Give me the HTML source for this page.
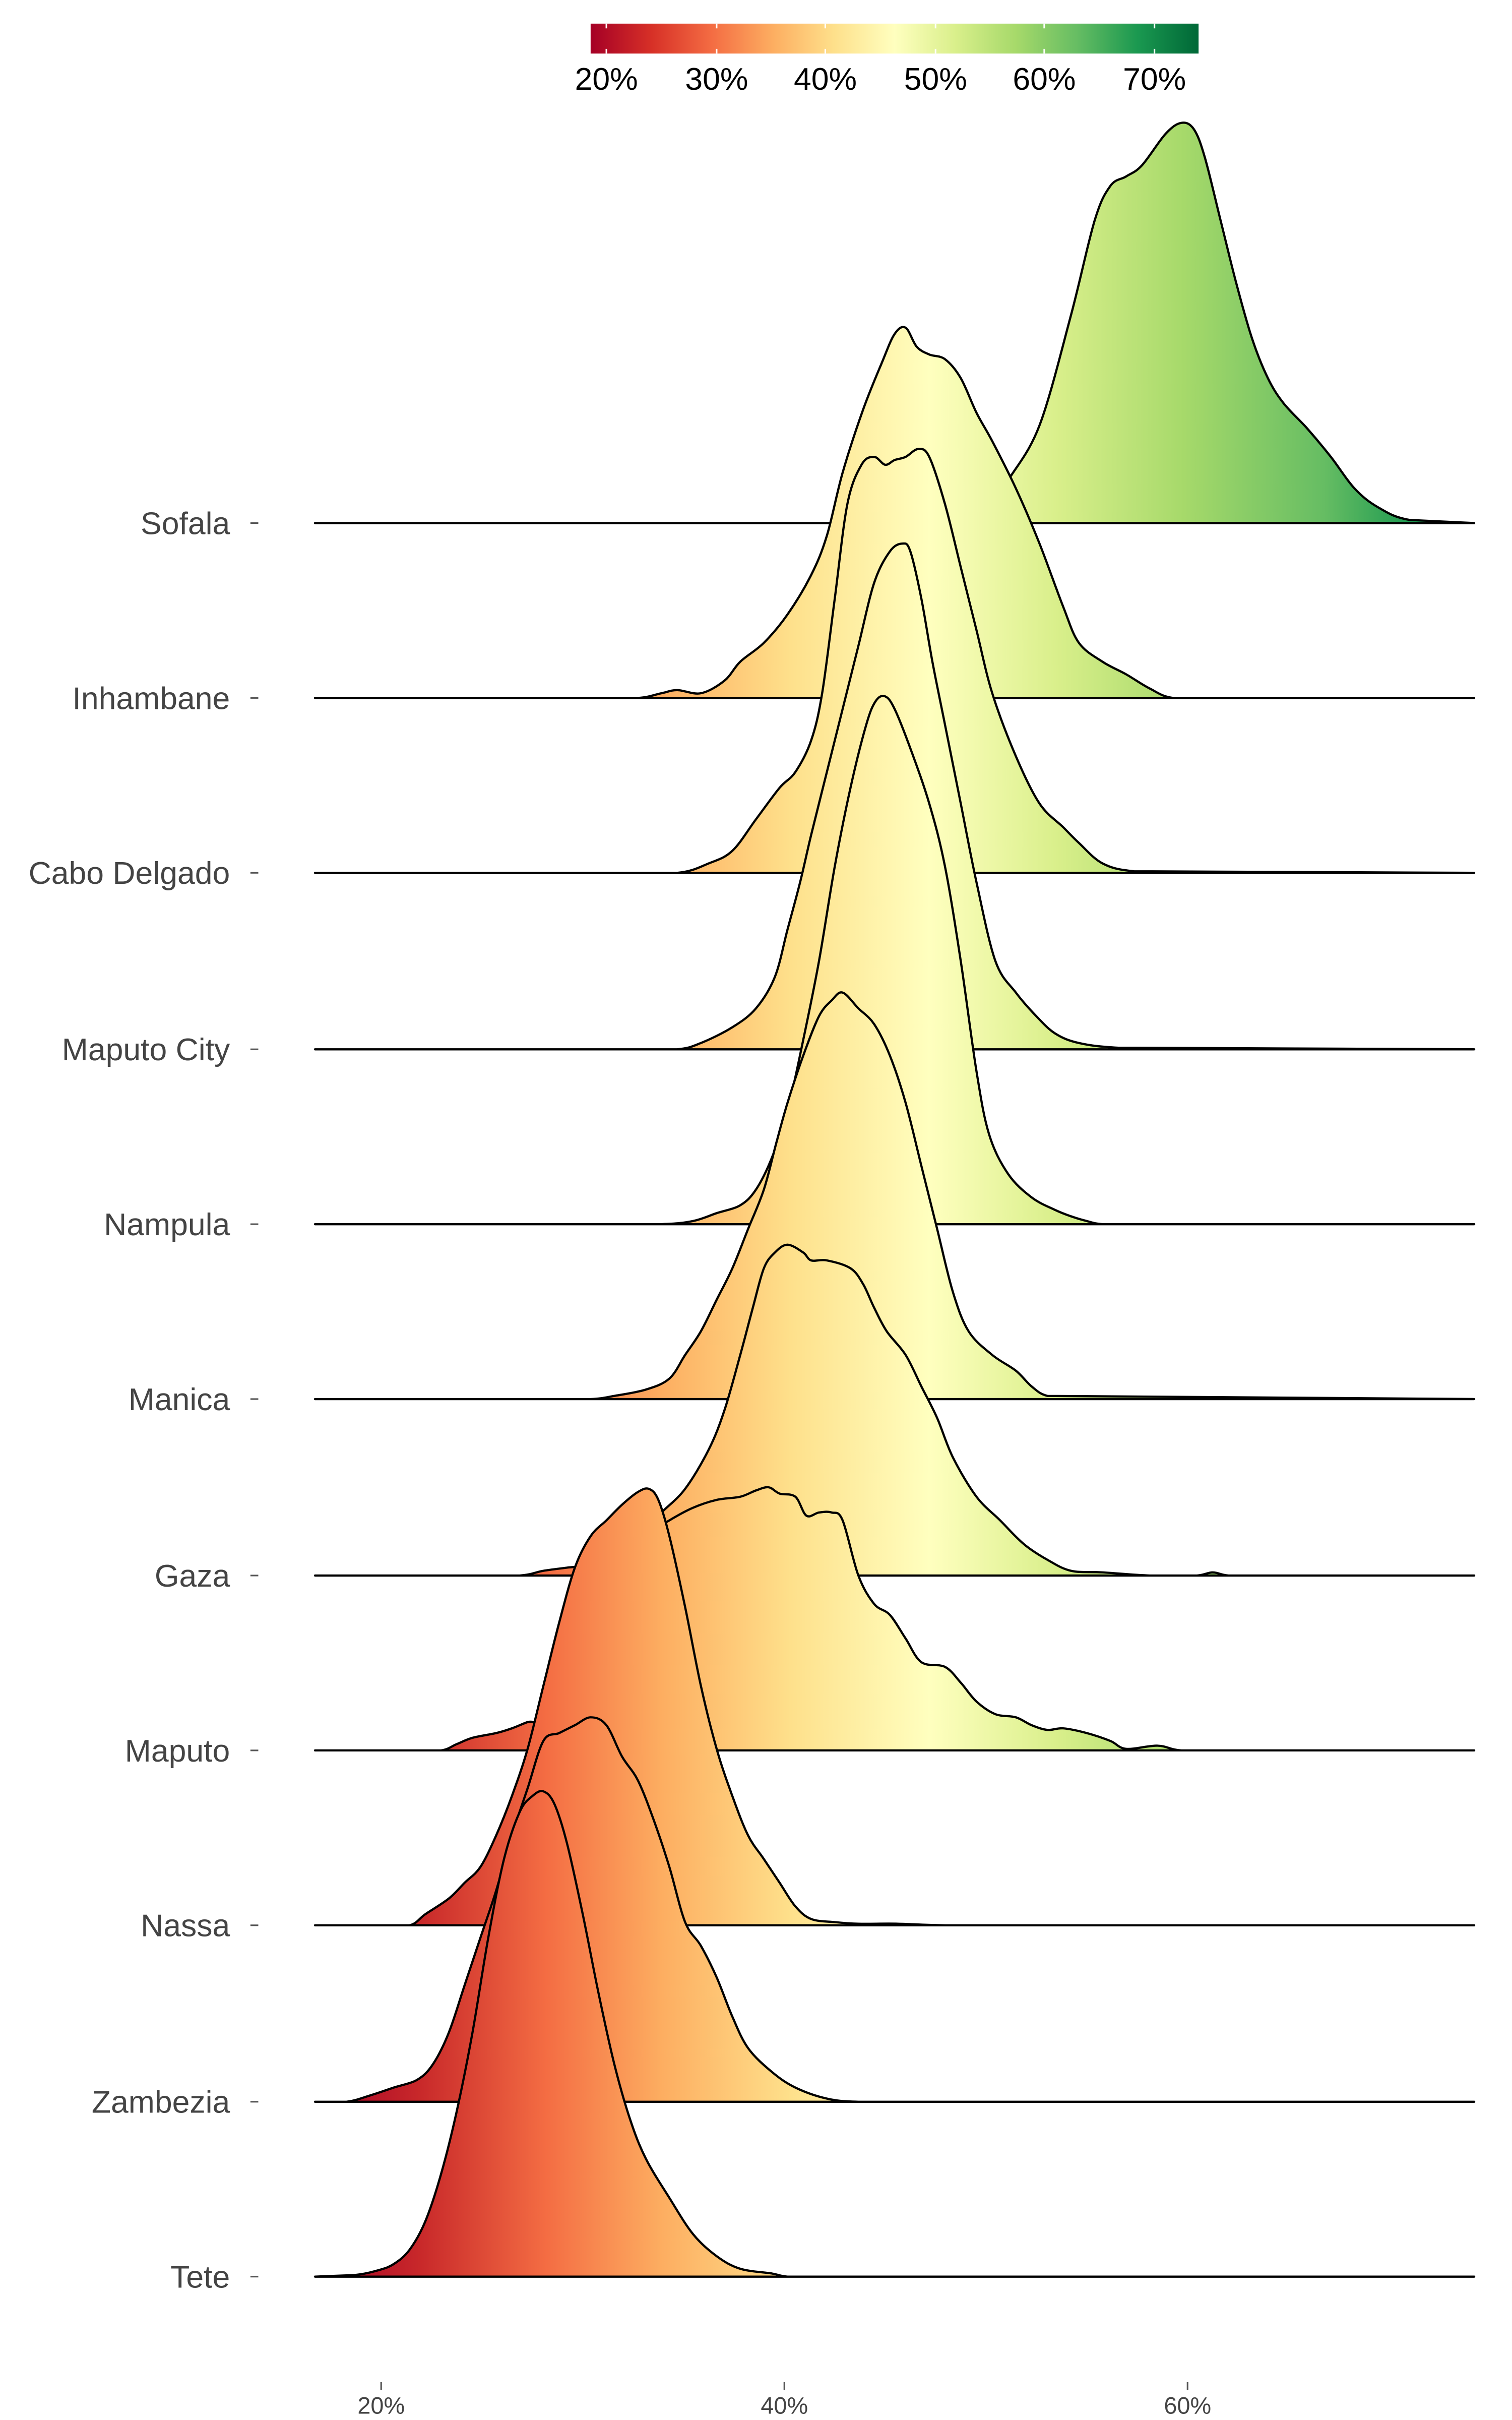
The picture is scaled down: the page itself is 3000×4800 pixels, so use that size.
<!DOCTYPE html>
<html><head><meta charset="utf-8"><style>html,body{margin:0;padding:0;background:#fff}svg{display:block}</style></head>
<body>
<svg width="3000" height="4800" viewBox="0 0 960 1536" xmlns="http://www.w3.org/2000/svg" font-family="Liberation Sans, sans-serif">
<defs>
<linearGradient id="g" gradientUnits="userSpaceOnUse" x1="200" y1="0" x2="936" y2="0">
<stop offset="0" stop-color="#a50026"/>
<stop offset="0.09" stop-color="#c8282a"/>
<stop offset="0.2" stop-color="#f46d43"/>
<stop offset="0.3" stop-color="#fdae61"/>
<stop offset="0.41" stop-color="#fee08b"/>
<stop offset="0.53" stop-color="#ffffbf"/>
<stop offset="0.64" stop-color="#d9ef8b"/>
<stop offset="0.75" stop-color="#a6d96a"/>
<stop offset="0.87" stop-color="#66bd63"/>
<stop offset="0.95" stop-color="#1a9850"/>
<stop offset="1" stop-color="#006837"/>
</linearGradient>
<linearGradient id="cb" x1="0" y1="0" x2="1" y2="0">
<stop offset="0" stop-color="#a50026"/>
<stop offset="0.1" stop-color="#d73027"/>
<stop offset="0.2" stop-color="#f46d43"/>
<stop offset="0.3" stop-color="#fdae61"/>
<stop offset="0.4" stop-color="#fee08b"/>
<stop offset="0.5" stop-color="#ffffbf"/>
<stop offset="0.6" stop-color="#d9ef8b"/>
<stop offset="0.7" stop-color="#a6d96a"/>
<stop offset="0.8" stop-color="#66bd63"/>
<stop offset="0.9" stop-color="#1a9850"/>
<stop offset="1" stop-color="#006837"/>
</linearGradient>
</defs>
<rect x="375" y="15" width="386" height="19" fill="url(#cb)"/>
<g stroke="#fff" stroke-width="1">
<line x1="385" y1="15" x2="385" y2="18"/><line x1="385" y1="31" x2="385" y2="34"/>
<line x1="455" y1="15" x2="455" y2="18"/><line x1="455" y1="31" x2="455" y2="34"/>
<line x1="524" y1="15" x2="524" y2="18"/><line x1="524" y1="31" x2="524" y2="34"/>
<line x1="594" y1="15" x2="594" y2="18"/><line x1="594" y1="31" x2="594" y2="34"/>
<line x1="663" y1="15" x2="663" y2="18"/><line x1="663" y1="31" x2="663" y2="34"/>
<line x1="733" y1="15" x2="733" y2="18"/><line x1="733" y1="31" x2="733" y2="34"/>
</g>
<g font-size="20" fill="#000" text-anchor="middle">
<text x="385" y="57">20%</text><text x="455" y="57">30%</text><text x="524" y="57">40%</text>
<text x="594" y="57">50%</text><text x="663" y="57">60%</text><text x="733" y="57">70%</text>
</g>
<g id="ridges" fill="url(#g)" stroke="#000" stroke-width="1.4" stroke-linejoin="round">
<path d="M200,332 L600,332 625,328 640,305 660,270 680,200 695,140 705,118 715,112 725,105 740,85 750,78 758,82 765,100 775,140 785,180 795,215 805,240 815,256 830,272 845,290 860,310 875,322 895,330 936,332 Z"/>
<path d="M200,443 L405,443 420,440 430,438 445,440 460,432 470,420 485,408 500,390 515,365 525,340 535,300 548,260 560,230 568,212 575,208 582,220 590,225 600,228 610,240 620,262 630,280 645,310 660,345 675,385 685,408 700,420 715,428 730,437 745,443 936,443 Z"/>
<path d="M200,554 L430,554 450,548 465,540 480,520 495,500 505,490 515,470 522,440 530,380 538,320 547,295 555,290 562,295 568,292 575,290 583,285 590,290 600,320 610,360 620,400 630,440 645,480 660,510 675,525 685,535 700,548 720,553 936,554 Z"/>
<path d="M200,666 L430,666 445,662 465,652 480,640 492,620 500,590 508,560 515,530 525,490 535,450 545,410 555,370 565,350 573,345 578,350 585,380 592,420 600,460 610,510 620,560 632,610 645,630 658,645 670,656 685,662 710,665 936,666 Z"/>
<path d="M200,777 L420,777 440,775 455,770 470,765 480,755 490,735 500,705 510,660 520,610 530,550 540,500 550,460 556,445 562,442 568,450 578,475 590,510 600,550 610,610 620,680 628,720 640,745 655,760 670,768 680,772 690,775 700,777 936,777 Z"/>
<path d="M200,888 L375,888 390,886 410,882 425,875 435,860 445,845 455,825 465,805 475,780 485,755 493,725 500,700 510,670 520,645 528,635 535,630 545,640 555,650 565,670 575,700 585,740 595,780 605,820 615,845 630,860 645,870 655,880 665,886 936,888 Z"/>
<path d="M200,1000 L330,1000 345,997 360,995 375,993 390,985 405,975 420,960 435,945 450,920 460,895 470,860 478,830 485,805 492,795 500,790 510,795 515,800 525,800 540,805 548,815 555,830 563,845 575,860 585,880 595,900 605,925 620,950 635,965 650,980 665,990 680,997 700,998 730,1000 760,1000 770,998 780,1000 936,1000 Z"/>
<path d="M200,1111 L280,1111 290,1107 300,1103 315,1100 325,1097 335,1093 345,1090 355,1060 365,1040 380,1010 395,990 410,975 425,965 440,957 455,952 470,950 480,946 488,944 495,948 505,950 512,962 520,960 528,960 535,965 545,1000 555,1018 565,1025 575,1040 585,1055 600,1058 610,1068 620,1080 632,1088 645,1090 655,1095 665,1098 675,1097 690,1100 705,1105 715,1110 735,1108 750,1111 936,1111 Z"/>
<path d="M200,1222 L260,1222 270,1215 285,1205 295,1195 305,1185 315,1165 325,1140 335,1110 345,1070 355,1030 365,995 375,975 385,965 395,955 405,947 412,945 418,952 425,975 435,1020 445,1070 455,1110 465,1140 475,1165 485,1180 495,1195 505,1210 515,1218 530,1220 545,1221 570,1221 600,1222 936,1222 Z"/>
<path d="M200,1334 L220,1334 235,1330 250,1325 265,1320 275,1310 285,1290 295,1260 305,1230 315,1200 325,1165 335,1135 345,1105 355,1100 365,1095 375,1090 385,1095 395,1115 405,1130 415,1155 425,1185 435,1220 445,1235 455,1255 465,1280 475,1300 490,1315 505,1325 525,1332 545,1334 936,1334 Z"/>
<path d="M200,1445 L225,1444 240,1441 250,1437 260,1428 270,1410 280,1380 290,1340 300,1290 310,1230 320,1180 330,1150 338,1140 345,1137 352,1145 360,1170 370,1215 380,1265 390,1310 400,1345 410,1370 425,1395 440,1418 455,1432 470,1440 490,1443 500,1445 936,1445 Z"/>
</g>
<g font-size="20" fill="#444" text-anchor="end">
<text x="146" y="339">Sofala</text><text x="146" y="450">Inhambane</text><text x="146" y="561">Cabo Delgado</text>
<text x="146" y="673">Maputo City</text><text x="146" y="784">Nampula</text><text x="146" y="895">Manica</text>
<text x="146" y="1007">Gaza</text><text x="146" y="1118">Maputo</text><text x="146" y="1229">Nassa</text>
<text x="146" y="1341">Zambezia</text><text x="146" y="1452">Tete</text>
</g>
<g stroke="#555" stroke-width="1">
<line x1="159" y1="332" x2="164" y2="332"/><line x1="159" y1="443" x2="164" y2="443"/><line x1="159" y1="554" x2="164" y2="554"/>
<line x1="159" y1="666" x2="164" y2="666"/><line x1="159" y1="777" x2="164" y2="777"/><line x1="159" y1="888" x2="164" y2="888"/>
<line x1="159" y1="1000" x2="164" y2="1000"/><line x1="159" y1="1111" x2="164" y2="1111"/><line x1="159" y1="1222" x2="164" y2="1222"/>
<line x1="159" y1="1334" x2="164" y2="1334"/><line x1="159" y1="1445" x2="164" y2="1445"/>
<line x1="242" y1="1512" x2="242" y2="1517"/><line x1="498" y1="1512" x2="498" y2="1517"/><line x1="754" y1="1512" x2="754" y2="1517"/>
</g>
<g font-size="15" fill="#444" text-anchor="middle">
<text x="242" y="1532">20%</text><text x="498" y="1532">40%</text><text x="754" y="1532">60%</text>
</g>
</svg>
<script>
(function(){
var ps=document.querySelectorAll('#ridges path');
for(var k=0;k<ps.length;k++){
 var d=ps[k].getAttribute('d');
 var nums=d.replace(/[MLZ]/g,' ').trim().split(/[\s,]+/).map(Number);
 var p=[];for(var i=0;i<nums.length;i+=2)p.push([nums[i],nums[i+1]]);
 var base=p[0][1];
 var s='M'+p[0][0]+','+p[0][1];
 for(var i=0;i<p.length-1;i++){
  var p1=p[i],p2=p[i+1];
  if(p1[1]>=base&&p2[1]>=base||i==0||i==p.length-2){s+=' L'+p2[0]+','+p2[1];continue;}
  var p0=p[i-1],p3=p[i+2];
  var c1x=p1[0]+(p2[0]-p0[0])/6,c1y=p1[1]+(p2[1]-p0[1])/6;
  var c2x=p2[0]-(p3[0]-p1[0])/6,c2y=p2[1]-(p3[1]-p1[1])/6;
  var dx=p2[0]-p1[0];
  c1x=Math.min(Math.max(c1x,p1[0]),p1[0]+dx*0.5);
  c2x=Math.max(Math.min(c2x,p2[0]),p2[0]-dx*0.5);
  c1y=Math.min(c1y,base);c2y=Math.min(c2y,base);
  s+=' C'+c1x.toFixed(2)+','+c1y.toFixed(2)+' '+c2x.toFixed(2)+','+c2y.toFixed(2)+' '+p2[0]+','+p2[1];
 }
 ps[k].setAttribute('d',s+' Z');
}
})();
</script>
</body></html>
